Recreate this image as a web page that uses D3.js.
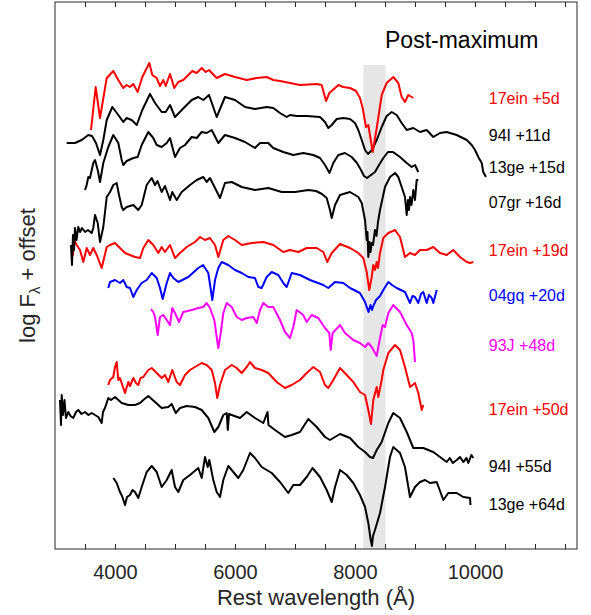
<!DOCTYPE html>
<html>
<head>
<meta charset="utf-8">
<script src="https://cdn.jsdelivr.net/npm/d3@7"></script>
<style>
body { margin: 0; background: #fff; }
svg { display: block; font-family: "Liberation Sans", Arial, Helvetica, sans-serif; }
</style>
</head>
<body>
<script>
// spectra: [rest wavelength (A), log F + offset]
var sn17ein_5d = [[3600,4.19],[3678,4.62],[3750,4.31],[3862,4.71],[3972,4.78],[4055,4.69],[4138,4.61],[4195,4.64],[4250,4.62],[4305,4.65],[4378,4.57],[4455,4.72],[4572,4.86],[4622,4.74],[4695,4.71],[4750,4.63],[4805,4.69],[4845,4.63],[4917,4.75],[4988,4.61],[5055,4.67],[5138,4.69],[5222,4.74],[5288,4.78],[5362,4.76],[5445,4.81],[5512,4.77],[5567,4.79],[5695,4.71],[5833,4.75],[6000,4.72],[6195,4.69],[6362,4.71],[6528,4.72],[6638,4.69],[6750,4.68],[6917,4.66],[7083,4.64],[7362,4.65],[7445,4.64],[7517,4.48],[7572,4.56],[7667,4.61],[7722,4.64],[7805,4.62],[7917,4.61],[8017,4.58],[8083,4.51],[8128,4.41],[8183,4.22],[8222,4.24],[8295,3.97],[8362,4.21],[8445,4.54],[8528,4.66],[8638,4.72],[8722,4.66],[8778,4.52],[8833,4.47],[8888,4.54],[8945,4.52],[8972,4.51]];

var sn94I_11d = [[3195,4.06],[3333,4.06],[3445,4.09],[3555,4.14],[3617,4.13],[3683,4.06],[3750,3.94],[3805,4.09],[3862,4.29],[3955,4.42],[4055,4.34],[4138,4.27],[4195,4.31],[4278,4.29],[4362,4.24],[4455,4.39],[4583,4.55],[4667,4.46],[4778,4.37],[4845,4.37],[4917,4.44],[5000,4.32],[5112,4.39],[5278,4.49],[5388,4.52],[5472,4.49],[5567,4.54],[5695,4.32],[5833,4.52],[6000,4.49],[6167,4.42],[6333,4.40],[6528,4.42],[6638,4.41],[6750,4.36],[6862,4.32],[6917,4.34],[7028,4.33],[7195,4.33],[7417,4.32],[7500,4.27],[7555,4.21],[7612,4.24],[7695,4.30],[7805,4.31],[7917,4.30],[8000,4.26],[8055,4.19],[8112,4.09],[8167,3.99],[8217,3.95],[8283,3.99],[8362,4.09],[8445,4.22],[8528,4.33],[8612,4.37],[8695,4.34],[8778,4.26],[8862,4.19],[8972,4.21],[9083,4.17],[9195,4.19],[9305,4.12],[9417,4.16],[9528,4.17],[9695,4.14],[9862,4.09],[9945,4.04],[10000,3.99],[10055,3.92],[10112,3.86],[10138,3.77],[10183,3.72]];

var sn13ge_15d = [[3500,3.59],[3528,3.64],[3555,3.72],[3583,3.71],[3638,3.86],[3667,3.89],[3712,3.79],[3750,3.67],[3805,3.86],[3888,4.02],[3972,4.14],[4055,4.06],[4112,3.89],[4138,3.84],[4195,3.88],[4305,3.91],[4378,3.92],[4445,4.04],[4555,4.17],[4638,4.11],[4695,4.04],[4778,4.02],[4862,4.06],[4917,4.11],[5000,3.92],[5083,4.01],[5167,4.04],[5278,4.12],[5362,4.11],[5445,4.17],[5528,4.16],[5612,4.19],[5722,4.06],[5833,4.14],[6000,4.11],[6167,4.07],[6333,4.01],[6417,4.06],[6555,4.06],[6638,4.01],[6805,3.97],[6972,3.94],[7138,3.96],[7305,3.94],[7417,3.91],[7500,3.84],[7575,3.76],[7638,3.86],[7722,3.94],[7833,3.96],[7945,3.92],[8033,3.86],[8100,3.79],[8150,3.73],[8200,3.71],[8267,3.74],[8333,3.77],[8400,3.84],[8472,3.91],[8550,3.97],[8633,3.97],[8750,3.92],[8862,3.86],[8945,3.82],[9000,3.84],[9055,3.77]];

var sn07gr_16d = [[3267,3.04],[3283,2.84],[3300,3.14],[3317,2.99],[3333,3.21],[3358,3.09],[3388,3.22],[3417,3.17],[3450,3.21],[3500,3.17],[3550,3.19],[3612,3.16],[3638,3.21],[3667,3.34],[3712,3.26],[3750,3.07],[3805,3.22],[3862,3.52],[3917,3.57],[3972,3.64],[4028,3.66],[4067,3.54],[4112,3.42],[4138,3.39],[4195,3.42],[4305,3.44],[4388,3.39],[4445,3.44],[4528,3.64],[4612,3.71],[4667,3.64],[4708,3.68],[4778,3.57],[4833,3.63],[4917,3.49],[4955,3.57],[5028,3.49],[5112,3.57],[5250,3.64],[5362,3.69],[5472,3.72],[5528,3.67],[5583,3.71],[5667,3.61],[5750,3.51],[5833,3.66],[5945,3.67],[6112,3.62],[6333,3.59],[6555,3.61],[6778,3.57],[7000,3.57],[7222,3.59],[7350,3.58],[7450,3.55],[7528,3.51],[7583,3.39],[7612,3.31],[7667,3.44],[7750,3.54],[7917,3.57],[8055,3.52],[8112,3.46],[8167,3.29],[8195,3.09],[8208,3.17],[8222,2.92],[8242,3.07],[8258,2.97],[8278,3.06],[8300,3.04],[8333,3.19],[8358,3.13],[8383,3.27],[8417,3.39],[8500,3.62],[8583,3.72],[8667,3.76],[8722,3.72],[8778,3.62],[8833,3.52],[8862,3.34],[8883,3.49],[8900,3.39],[8917,3.52],[8942,3.44],[8972,3.59],[9000,3.49],[9028,3.69],[9055,3.69]];

var sn17ein_19d = [[3278,3.02],[3300,2.94],[3317,3.09],[3362,3.04],[3417,2.99],[3472,2.87],[3528,3.01],[3583,2.94],[3638,3.01],[3695,2.94],[3778,2.81],[3862,3.02],[3917,3.04],[4000,3.06],[4083,3.01],[4167,2.96],[4250,2.94],[4333,2.92],[4417,2.91],[4472,3.01],[4555,3.09],[4638,3.04],[4722,2.96],[4778,3.02],[4833,2.97],[4917,3.04],[5000,2.91],[5083,2.96],[5195,3.02],[5333,3.07],[5417,3.12],[5500,3.09],[5583,3.11],[5667,3.04],[5722,2.92],[5805,3.09],[5888,3.13],[6000,3.09],[6112,3.04],[6278,3.06],[6472,3.07],[6638,3.04],[6805,2.97],[6917,2.99],[7055,2.97],[7195,3.01],[7362,3.01],[7472,2.97],[7538,2.87],[7612,2.96],[7750,3.05],[7917,3.01],[8055,2.96],[8138,2.91],[8195,2.77],[8238,2.59],[8278,2.72],[8305,2.84],[8333,2.79],[8362,2.87],[8383,2.81],[8417,2.96],[8472,3.11],[8555,3.16],[8667,3.19],[8750,3.12],[8833,2.92],[8917,2.96],[9000,2.94],[9083,2.99],[9195,2.99],[9305,3.02],[9417,2.96],[9528,2.94],[9638,2.99],[9750,2.92],[9862,2.87],[9917,2.86],[9972,2.87]];

var sn04gq_20d = [[3888,2.61],[3917,2.67],[4000,2.69],[4083,2.66],[4138,2.69],[4195,2.62],[4250,2.61],[4305,2.52],[4362,2.59],[4445,2.66],[4528,2.69],[4612,2.76],[4695,2.71],[4750,2.61],[4795,2.50],[4862,2.66],[4917,2.76],[4972,2.71],[5055,2.67],[5222,2.72],[5388,2.81],[5467,2.84],[5555,2.76],[5622,2.49],[5667,2.69],[5722,2.81],[5778,2.87],[5888,2.84],[6000,2.79],[6112,2.76],[6222,2.72],[6333,2.71],[6388,2.62],[6445,2.61],[6528,2.72],[6612,2.77],[6722,2.74],[6805,2.66],[6862,2.62],[6945,2.76],[7083,2.74],[7250,2.69],[7472,2.64],[7555,2.61],[7667,2.67],[7805,2.66],[7917,2.61],[8083,2.56],[8167,2.47],[8225,2.37],[8258,2.44],[8283,2.39],[8305,2.43],[8350,2.49],[8417,2.53],[8472,2.59],[8555,2.67],[8617,2.64],[8695,2.61],[8833,2.57],[8917,2.46],[8958,2.53],[9000,2.52],[9055,2.46],[9100,2.55],[9138,2.57],[9195,2.46],[9233,2.54],[9278,2.51],[9305,2.46],[9362,2.59]];

var sn93J_48d = [[4600,2.40],[4638,2.37],[4667,2.32],[4712,2.14],[4750,2.32],[4805,2.34],[4862,2.29],[4917,2.24],[4955,2.41],[5000,2.36],[5067,2.27],[5138,2.37],[5278,2.39],[5388,2.41],[5472,2.42],[5528,2.46],[5583,2.41],[5655,2.29],[5695,2.12],[5722,2.01],[5762,2.16],[5805,2.36],[5862,2.46],[5945,2.42],[6028,2.32],[6112,2.29],[6195,2.31],[6305,2.32],[6362,2.26],[6417,2.39],[6472,2.46],[6555,2.42],[6638,2.42],[6750,2.29],[6833,2.17],[6917,2.11],[6972,2.22],[7028,2.39],[7138,2.34],[7195,2.27],[7278,2.34],[7388,2.31],[7500,2.21],[7572,2.16],[7595,1.99],[7628,2.16],[7722,2.22],[7750,2.24],[7833,2.16],[7972,2.09],[8083,2.06],[8167,2.02],[8222,2.06],[8278,2.02],[8362,1.93],[8417,2.11],[8462,2.24],[8500,2.22],[8555,2.36],[8638,2.44],[8750,2.37],[8862,2.24],[8945,2.16],[8972,2.09],[9000,1.87]];

var sn17ein_50d = [[3888,1.64],[3917,1.69],[3972,1.72],[4000,1.82],[4028,1.87],[4055,1.69],[4083,1.71],[4138,1.61],[4167,1.56],[4222,1.67],[4250,1.63],[4305,1.71],[4350,1.66],[4388,1.64],[4425,1.71],[4472,1.72],[4555,1.79],[4612,1.81],[4695,1.76],[4778,1.71],[4833,1.74],[4888,1.67],[4955,1.79],[5028,1.67],[5083,1.64],[5167,1.74],[5250,1.79],[5333,1.82],[5445,1.86],[5528,1.84],[5612,1.79],[5667,1.66],[5705,1.51],[5750,1.64],[5833,1.79],[5945,1.84],[6028,1.81],[6112,1.76],[6195,1.82],[6250,1.87],[6333,1.81],[6445,1.79],[6555,1.76],[6695,1.67],[6833,1.61],[6945,1.64],[7083,1.69],[7195,1.76],[7305,1.82],[7417,1.77],[7500,1.64],[7555,1.61],[7638,1.69],[7750,1.81],[7862,1.74],[7972,1.67],[8083,1.57],[8167,1.54],[8222,1.39],[8267,1.25],[8305,1.49],[8362,1.62],[8388,1.52],[8445,1.69],[8472,1.79],[8555,1.96],[8667,2.04],[8750,1.99],[8833,1.82],[8917,1.62],[9000,1.66],[9055,1.56],[9112,1.39],[9138,1.44]];

var sn94I_55d = [[3083,1.49],[3100,1.24],[3112,1.54],[3133,1.34],[3158,1.49],[3183,1.31],[3222,1.37],[3258,1.33],[3305,1.31],[3350,1.37],[3388,1.39],[3442,1.35],[3500,1.37],[3558,1.34],[3612,1.36],[3667,1.34],[3722,1.32],[3778,1.26],[3800,1.37],[3833,1.41],[3888,1.51],[3933,1.49],[4000,1.52],[4112,1.46],[4222,1.44],[4333,1.44],[4417,1.46],[4472,1.49],[4555,1.53],[4667,1.47],[4778,1.41],[4888,1.42],[4945,1.45],[5012,1.36],[5083,1.41],[5195,1.43],[5333,1.42],[5445,1.39],[5555,1.31],[5655,1.17],[5722,1.22],[5805,1.34],[5862,1.36],[5880,1.19],[5900,1.35],[5945,1.34],[6083,1.31],[6195,1.37],[6333,1.31],[6472,1.26],[6542,1.37],[6558,1.24],[6667,1.19],[6833,1.12],[6945,1.14],[7083,1.17],[7222,1.30],[7362,1.22],[7500,1.12],[7583,1.09],[7750,1.15],[7917,1.11],[8055,1.02],[8167,0.97],[8250,0.92],[8300,0.91],[8362,0.99],[8445,1.07],[8555,1.26],[8638,1.36],[8750,1.31],[8862,1.17],[8972,1.01],[9138,1.01],[9305,0.97],[9417,0.92],[9528,0.87],[9580,0.91],[9630,0.86],[9695,0.89],[9750,0.92],[9805,0.87],[9860,0.91],[9888,0.86],[9940,0.94],[9972,0.91]];

var sn13ge_64d = [[3972,0.71],[4028,0.66],[4083,0.57],[4117,0.53],[4167,0.44],[4200,0.52],[4250,0.54],[4292,0.59],[4333,0.57],[4388,0.51],[4445,0.62],[4528,0.77],[4612,0.83],[4695,0.77],[4778,0.62],[4862,0.69],[4945,0.79],[5000,0.62],[5055,0.57],[5138,0.69],[5250,0.74],[5388,0.81],[5445,0.71],[5500,0.92],[5545,0.82],[5572,0.89],[5638,0.69],[5695,0.57],[5750,0.52],[5805,0.69],[5888,0.83],[5972,0.77],[6055,0.71],[6138,0.79],[6250,0.96],[6333,0.91],[6445,0.82],[6612,0.76],[6750,0.67],[6888,0.56],[6972,0.64],[7083,0.64],[7195,0.72],[7292,0.81],[7417,0.72],[7528,0.59],[7612,0.47],[7667,0.62],[7750,0.79],[7862,0.74],[7972,0.66],[8083,0.54],[8167,0.42],[8222,0.26],[8262,0.09],[8283,0.03],[8300,0.13],[8333,0.19],[8417,0.36],[8500,0.62],[8583,0.92],[8638,1.02],[8750,0.96],[8833,0.82],[8917,0.52],[9000,0.62],[9083,0.67],[9167,0.69],[9250,0.66],[9362,0.67],[9472,0.49],[9555,0.56],[9695,0.56],[9805,0.52],[9917,0.51],[9925,0.44]];

var names = ["17ein +5d", "94I +11d", "13ge +15d", "07gr +16d", "17ein +19d", "04gq +20d", "93J +48d", "17ein +50d", "94I +55d", "13ge +64d"];
var series = [sn17ein_5d, sn94I_11d, sn13ge_15d, sn07gr_16d, sn17ein_19d, sn04gq_20d, sn93J_48d, sn17ein_50d, sn94I_55d, sn13ge_64d];
// label height in flux units
var labelLevel = [4.45, 4.08, 3.76, 3.41, 2.93, 2.485, 1.98, 1.34, 0.77, 0.39];
var caBand = [8140, 8510];
var xTicks = d3.range(3500, 11600, 500);

var colors = ["#ff0000", "#000", "#000", "#000", "#ff0000", "#0000ff", "#ff00ff", "#ff0000", "#000", "#000"];

var W = 591, H = 615;
var padL = 55, padR = 577, padT = 2, padB = 549;

var svg = d3.select("body").append("svg")
    .attr("width", W)
    .attr("height", H);

var x = d3.scaleLinear().domain([3000, 11700]).range([padL, padR]);
var y = d3.scaleLinear().domain([0, 5.47]).range([padB, padT]);

// grey Ca II band
svg.append("rect")
    .attr("x", x(caBand[0]))
    .attr("y", y(4.84))
    .attr("width", x(caBand[1]) - x(caBand[0]))
    .attr("height", padB - y(4.84))
    .attr("fill", "#e6e6e6");

var line = d3.line()
    .x(function (d) { return x(d[0]); })
    .y(function (d) { return y(d[1]); });

// bottom spectra first so upper ones sit on top
for (var i = series.length - 1; i >= 0; i--) {
    svg.append("path")
        .datum(series[i])
        .attr("d", line)
        .attr("fill", "none")
        .attr("stroke", colors[i])
        .attr("stroke-width", 2)
        .attr("stroke-linejoin", "round");
}

svg.selectAll("text.lab")
    .data(names)
    .enter()
    .append("text")
    .attr("class", "lab")
    .attr("x", x(10230))
    .attr("y", function (d, i) { return y(labelLevel[i]); })
    .attr("fill", function (d, i) { return colors[i]; })
    .attr("font-size", 16)
    .text(function (d) { return d; });

svg.append("text")
    .attr("x", 385)
    .attr("y", 48)
    .attr("font-size", 23)
    .attr("fill", "#000")
    .text("Post-maximum");

// axes
var xb = d3.axisBottom(x).tickValues(xTicks).tickSizeInner(-5).tickSizeOuter(0).tickPadding(16)
    .tickFormat(function (d) { return d % 2000 === 0 ? d : ""; });
var gx = svg.append("g").attr("transform", "translate(0," + padB + ")").call(xb);
gx.select(".domain").remove();
gx.selectAll("line").attr("stroke", "#262626");
gx.selectAll("text").attr("font-size", 20).attr("fill", "#262626")
    .attr("font-family", "Liberation Sans, Arial, sans-serif");

var xt = d3.axisTop(x).tickValues(xTicks).tickSizeInner(-5).tickSizeOuter(0).tickFormat("");
var gt = svg.append("g").attr("transform", "translate(0," + padT + ")").call(xt);
gt.select(".domain").remove();
gt.selectAll("line").attr("stroke", "#262626");

svg.append("rect")
    .attr("x", padL)
    .attr("y", padT)
    .attr("width", padR - padL)
    .attr("height", padB - padT)
    .attr("fill", "none")
    .attr("stroke", "#262626")
    .attr("stroke-width", 1);

svg.append("text")
    .attr("x", (padL + padR) / 2)
    .attr("y", 605)
    .attr("text-anchor", "middle")
    .attr("font-size", 22)
    .attr("fill", "#262626")
    .text("Rest wavelength (\u00c5)");

var yl = svg.append("text")
    .attr("transform", "translate(35," + ((padT + padB) / 2) + ") rotate(-90)")
    .attr("text-anchor", "middle")
    .attr("font-size", 22)
    .attr("fill", "#262626");
yl.append("tspan").text("log F");
yl.append("tspan").attr("font-size", 15).attr("dy", 5).text("\u03bb");
yl.append("tspan").attr("dy", -5).text(" + offset");
</script>
</body>
</html>
